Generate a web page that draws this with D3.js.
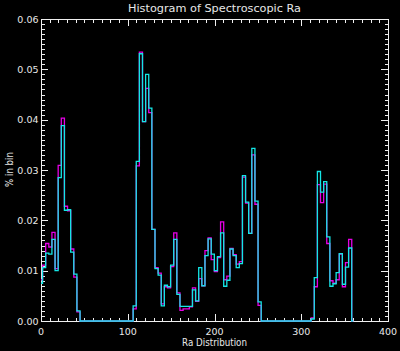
<!DOCTYPE html>
<html>
<head>
<meta charset="utf-8">
<script src="https://cdn.jsdelivr.net/npm/d3@7"></script>
<style>
  body { margin: 0; background: #000; }
  svg { display: block; }
  text { font-family: "DejaVu Sans", sans-serif; fill: #e8e8e8; }
</style>
</head>
<body>
<div id="chart"></div>
<script>
// histogram bins: 3.6 deg wide, one value per bin centre (last one closes the trace)
var binWidth = 3.6;
var binCenters = d3.range(0, 101).map(function (i) { return i * binWidth; });

var magentaPct = [
  .0082, .0111, .0154, .0147, .0176, .0104, .0309, .0403, .0228, .0219,
  .0143, .0087, .0018, 0, 0, 0, 0, 0, 0, 0,
  0, 0, 0, 0, 0, 0, 0, 0, 0, 0,
  .0024, .0308, .0534, .0396, .0462, .0414, .0182, .0106, .0095, .0034,
  .0068, .0066, .0108, .0175, .0056, .0021, .0024, .0024, .0028, .0066,
  .0039, .0084, .0070, .0140, .0165, .0122, .0098, .0126, .0197, .0082,
  .0089, .0144, .0132, .0113, .0118, .0286, .0234, .0174, .0330, .0232,
  .0031, 0, 0, 0, 0, 0, 0, 0, 0, 0,
  0, 0, 0, 0, 0, 0, 0, .0006, .0068, .0271,
  .0235, .0272, .0154, .0080, .0075, .0082, .0133, .0068, .0116, .0162,
  0
];

var cyanPct = [
  .0075, .0106, .0135, .0133, .0162, .0100, .0285, .0388, .0220, .0221,
  .0137, .0093, .0020, 0, 0, 0, 0, 0, 0, 0,
  0, 0, 0, 0, 0, 0, 0, 0, 0, 0,
  .0030, .0317, .0531, .0396, .0490, .0423, .0182, .0104, .0091, .0030,
  .0071, .0068, .0111, .0162, .0053, .0029, .0029, .0029, .0029, .0062,
  .0040, .0106, .0070, .0130, .0163, .0133, .0100, .0128, .0175, .0069,
  .0081, .0143, .0130, .0106, .0114, .0289, .0236, .0174, .0343, .0238,
  .0038, 0, 0, 0, 0, 0, 0, 0, 0, 0,
  0, 0, 0, 0, 0, 0, 0, .0004, .0086, .0297,
  .0256, .0277, .0167, .0069, .0074, .0096, .0134, .0073, .0107, .0145,
  0
];

var xTicks = [0, 100, 200, 300, 400];
var yTicks = [0, 0.01, 0.02, 0.03, 0.04, 0.05, 0.06];

var width = 400,
    height = 351;
var plotLeft = 41, plotRight = 388, plotTop = 19, plotBottom = 321;

var svg = d3.select("#chart").append("svg")
  .attr("width", width)
  .attr("height", height);

svg.append("rect")
  .attr("width", width)
  .attr("height", height)
  .attr("fill", "#000");

var x = d3.scaleLinear().domain([0, 400]).range([plotLeft, plotRight]);
var y = d3.scaleLinear().domain([0, 0.06]).range([plotBottom, plotTop]);

var axisColor = "#f0f0f0";

// frame with ticks on all four sides
function drawAxes() {
  var g = svg.append("g")
    .attr("shape-rendering", "crispEdges")
    .attr("stroke", axisColor)
    .attr("fill", "none");
  g.append("rect")
    .attr("x", plotLeft + 0.5)
    .attr("y", plotTop + 0.5)
    .attr("width", plotRight - plotLeft)
    .attr("height", plotBottom - plotTop);

  var xMinor = d3.range(0, 401, 10);
  var yMinor = d3.range(0, 61).map(function (d) { return d / 1000; });

  xMinor.forEach(function (d, i) {
    var len = (i % 10 == 0) ? 7 : 3.5;
    var px = Math.round(x(d)) + 0.5;
    g.append("line").attr("x1", px).attr("x2", px)
      .attr("y1", plotBottom).attr("y2", plotBottom - len);
    g.append("line").attr("x1", px).attr("x2", px)
      .attr("y1", plotTop).attr("y2", plotTop + len);
  });
  yMinor.forEach(function (d, i) {
    var len = (i % 10 == 0) ? 7 : 3.5;
    var py = Math.round(y(d)) + 0.5;
    g.append("line").attr("y1", py).attr("y2", py)
      .attr("x1", plotLeft).attr("x2", plotLeft + len);
    g.append("line").attr("y1", py).attr("y2", py)
      .attr("x1", plotRight).attr("x2", plotRight - len);
  });

  svg.selectAll(".x-label")
    .data(xTicks)
    .enter()
    .append("text")
      .attr("class", "x-label")
      .attr("x", function (d) { return x(d); })
      .attr("y", 334.5)
      .attr("text-anchor", "middle")
      .attr("font-size", 9.5)
      .text(function (d) { return d; });

  svg.selectAll(".y-label")
    .data(yTicks)
    .enter()
    .append("text")
      .attr("class", "y-label")
      .attr("x", 38.5)
      .attr("y", function (d) { return y(d) + 3.6; })
      .attr("text-anchor", "end")
      .attr("font-size", 9.5)
      .text(function (d) { return d3.format(".2f")(d); });
}

function drawHist(values, color) {
  var line = d3.line()
    .x(function (d, i) { return x(binCenters[i]); })
    .y(function (d) { return y(d); })
    .curve(d3.curveStep);
  svg.append("path")
    .datum(values)
    .attr("d", line)
    .attr("fill", "none")
    .attr("stroke", color)
    .attr("stroke-width", 1.3);
}

drawAxes();
drawHist(magentaPct, "#e600e6");
drawHist(cyanPct, "#14e6e6");

svg.append("text")
  .attr("x", 214.5)
  .attr("y", 12.3)
  .attr("text-anchor", "middle")
  .attr("font-size", 10.5)
  .attr("textLength", 173)
  .attr("lengthAdjust", "spacingAndGlyphs")
  .text("Histogram of Spectroscopic Ra");

svg.append("text")
  .attr("x", 214.5)
  .attr("y", 346)
  .attr("text-anchor", "middle")
  .attr("font-size", 10)
  .attr("textLength", 65)
  .attr("lengthAdjust", "spacingAndGlyphs")
  .text("Ra Distribution");

svg.append("text")
  .attr("transform", "translate(13,169.5) rotate(-90)")
  .attr("text-anchor", "middle")
  .attr("font-size", 10)
  .attr("textLength", 35)
  .attr("lengthAdjust", "spacingAndGlyphs")
  .text("% in bin");
</script>
</body>
</html>
